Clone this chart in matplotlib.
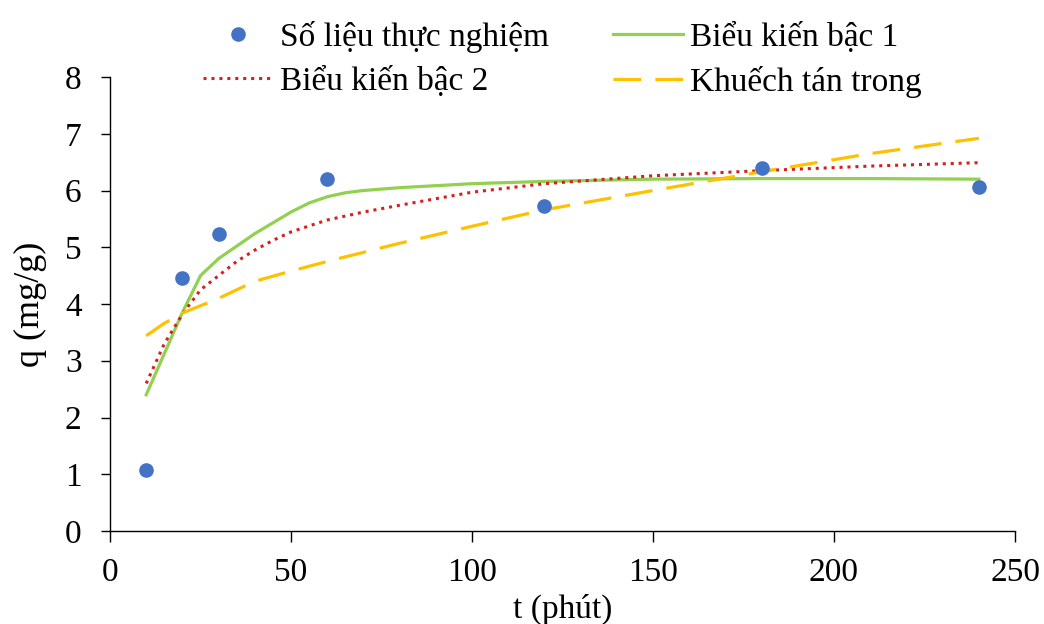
import matplotlib
matplotlib.use("Agg")
import matplotlib.pyplot as plt

plt.rcParams['font.family'] = ['Liberation Serif', 'DejaVu Serif']

# Experimental data
t_exp = [10, 20, 30, 60, 120, 180, 240]
q_exp = [1.07, 4.45, 5.23, 6.20, 5.72, 6.40, 6.07]

# Pseudo-first-order curve
t_pfo = [10, 20, 25, 30, 35, 40, 45, 50, 55, 60, 65, 70, 80, 100, 120, 150, 180, 210, 240]
q_pfo = [2.40, 3.85, 4.50, 4.80, 5.02, 5.24, 5.43, 5.62, 5.78, 5.89, 5.96, 6.00, 6.05, 6.12, 6.16, 6.20, 6.21, 6.21, 6.20]

# Pseudo-second-order curve
t_pso = [10, 15, 20, 25, 30, 35, 40, 45, 50, 60, 70, 80, 100, 120, 150, 180, 210, 240]
q_pso = [2.60, 3.30, 3.82, 4.25, 4.50, 4.75, 4.95, 5.12, 5.27, 5.48, 5.62, 5.74, 5.97, 6.12, 6.26, 6.35, 6.43, 6.49]

# Intraparticle diffusion curve
t_ipd = [10, 15, 20, 30, 40, 50, 60, 80, 100, 120, 150, 180, 210, 240]
q_ipd = [3.44, 3.66, 3.84, 4.10, 4.40, 4.58, 4.75, 5.07, 5.37, 5.66, 6.00, 6.33, 6.65, 6.92]

labels = ["Số liệu thực nghiệm", "Biểu kiến bậc 1", "Biểu kiến bậc 2", "Khuếch tán trong"]
x_ticks = [0, 50, 100, 150, 200, 250]
y_ticks = [0, 1, 2, 3, 4, 5, 6, 7, 8]

fig = plt.figure(figsize=(10.44, 6.24), dpi=100)
ax = fig.add_axes([110/1044, 1-531/624, (1015-110)/1044, (531-77)/624])

h_exp, = ax.plot(t_exp, q_exp, 'o', color='#4472C4', markersize=9.5, linestyle='none', zorder=5)
h_pfo, = ax.plot(t_pfo, q_pfo, '-', color='#92D050', linewidth=2.3)
h_pso, = ax.plot(t_pso, q_pso, linestyle=(0, (1, 1.6)), color='#D42020', linewidth=2.2,
                 dash_capstyle='butt')
h_ipd, = ax.plot(t_ipd, q_ipd, linestyle=(0, (8.7, 4.4)), color='#FFC000', linewidth=2.3)

ax.set_xlim(0, 250)
ax.set_ylim(0, 8)
ax.set_xticks(x_ticks)
ax.set_yticks(y_ticks)
ax.spines['top'].set_visible(False)
ax.spines['right'].set_visible(False)
for s in ['left', 'bottom']:
    ax.spines[s].set_linewidth(1.0)
ax.tick_params(axis='both', direction='out', width=1, labelsize=24)
ax.tick_params(axis='y', pad=14, length=6.5)
ax.tick_params(axis='x', pad=11, length=8)
ax.set_xlabel("t (phút)", fontsize=24, labelpad=4)
ax.set_ylabel("q (mg/g)", fontsize=26, labelpad=13)

handles = [h_exp, h_pso, h_pfo, h_ipd]
order_labels = [labels[0], labels[2], labels[1], labels[3]]
fig.legend(handles, order_labels, ncol=2, loc='upper left',
           bbox_to_anchor=(203/1044, 1 - 21/624), frameon=False, fontsize=24,
           handlelength=2.1, handletextpad=0.22, columnspacing=1.9, labelspacing=0.38,
           borderpad=0, borderaxespad=0)

fig.savefig("out.png", dpi=100)
